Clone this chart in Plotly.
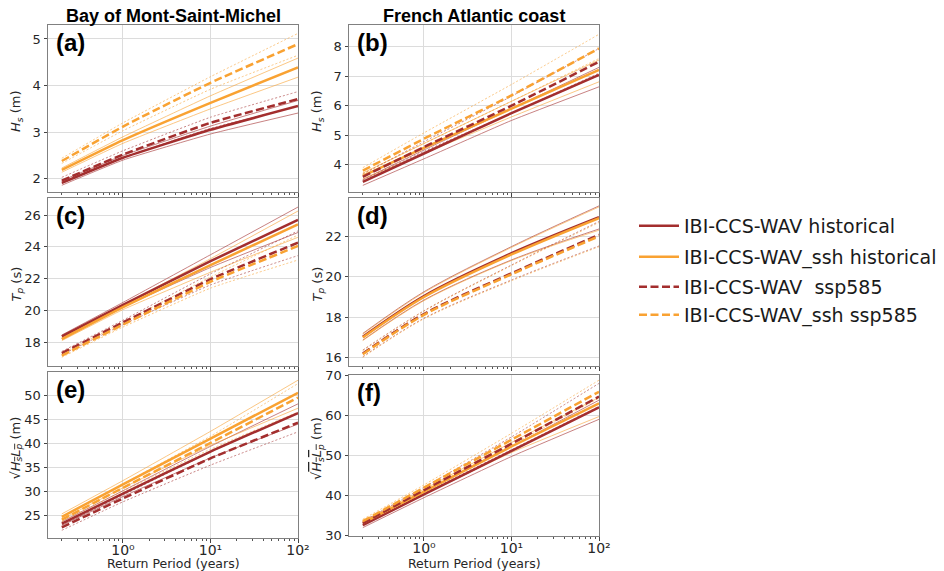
import math
import plotly.graph_objects as go

# ---------------- data ----------------
return_period = [0.2, 1, 10, 100]

# (a) Bay of Mont-Saint-Michel, Hs (m)
a_hist = [1.91, 2.45, 3.05, 3.56]
a_hist_lo = [1.86, 2.40, 2.96, 3.41]
a_hist_hi = [1.96, 2.50, 3.13, 3.68]
a_ssp = [1.96, 2.52, 3.20, 3.71]
a_ssp_lo = [1.90, 2.45, 3.08, 3.55]
a_ssp_hi = [2.03, 2.60, 3.32, 3.87]
a_ssh_hist = [2.19, 2.83, 3.63, 4.39]
a_ssh_hist_lo = [2.14, 2.76, 3.50, 4.18]
a_ssh_hist_hi = [2.23, 2.90, 3.78, 4.59]
a_ssh_ssp = [2.38, 3.12, 4.06, 4.89]
a_ssh_ssp_lo = [2.33, 3.03, 3.92, 4.65]
a_ssh_ssp_hi = [2.44, 3.20, 4.19, 5.12]

# (b) French Atlantic coast, Hs (m)
b_hist = [3.42, 4.38, 5.75, 7.04]
b_hist_lo = [3.30, 4.20, 5.50, 6.64]
b_hist_hi = [3.50, 4.50, 5.90, 7.30]
b_ssp = [3.59, 4.60, 6.00, 7.49]
b_ssp_lo = [3.48, 4.45, 5.75, 7.10]
b_ssp_hi = [3.68, 4.78, 6.32, 7.94]
b_ssh_hist = [3.62, 4.57, 5.90, 7.21]
b_ssh_hist_lo = [3.52, 4.38, 5.62, 6.81]
b_ssh_hist_hi = [3.72, 4.72, 6.15, 7.55]
b_ssh_ssp = [3.80, 4.88, 6.35, 7.94]
b_ssh_ssp_lo = [3.70, 4.72, 6.15, 7.60]
b_ssh_ssp_hi = [3.90, 5.08, 6.72, 8.42]

# (c) Bay of Mont-Saint-Michel, Tp (s)
c_hist = [18.36, 20.35, 23.10, 25.69]
c_hist_lo = [18.25, 20.20, 22.70, 24.90]
c_hist_hi = [18.45, 20.50, 23.50, 26.50]
c_ssp = [17.31, 19.24, 21.96, 24.26]
c_ssp_lo = [17.20, 19.10, 21.60, 23.45]
c_ssp_hi = [17.42, 19.38, 22.30, 25.00]
c_ssh_hist = [18.19, 20.20, 22.85, 25.41]
c_ssh_hist_lo = [18.10, 20.05, 22.40, 24.60]
c_ssh_hist_hi = [18.28, 20.35, 23.25, 26.25]
c_ssh_ssp = [17.16, 19.10, 21.80, 24.05]
c_ssh_ssp_lo = [17.05, 18.95, 21.40, 23.17]
c_ssh_ssp_hi = [17.28, 19.25, 22.10, 24.74]

# (d) French Atlantic coast, Tp (s)
d_hist = [17.04, 19.05, 21.16, 22.94]
d_hist_lo = [16.87, 18.85, 20.83, 22.36]
d_hist_hi = [17.20, 19.26, 21.49, 23.50]
d_ssp = [16.21, 18.16, 20.17, 22.07]
d_ssp_lo = [16.05, 17.95, 19.84, 21.52]
d_ssp_hi = [16.38, 18.32, 20.58, 22.73]
d_ssh_hist = [17.00, 19.00, 21.10, 22.90]
d_ssh_hist_lo = [16.85, 18.82, 20.80, 22.30]
d_ssh_hist_hi = [17.17, 19.22, 21.45, 23.45]
d_ssh_ssp = [16.17, 18.12, 20.12, 22.00]
d_ssh_ssp_lo = [16.02, 17.92, 19.80, 21.48]
d_ssh_ssp_hi = [16.35, 18.30, 20.55, 22.68]

# (e) Bay of Mont-Saint-Michel, sqrt(Hs Lp) (m)
e_hist = [23.4, 29.6, 38.3, 46.3]
e_hist_lo = [23.0, 29.0, 37.0, 44.0]
e_hist_hi = [23.8, 30.2, 39.4, 48.2]
e_ssp = [22.6, 28.6, 36.9, 44.3]
e_ssp_lo = [22.0, 27.9, 35.5, 42.4]
e_ssp_hi = [23.1, 29.3, 38.2, 46.3]
e_ssh_hist = [24.8, 31.5, 41.0, 50.5]
e_ssh_hist_lo = [24.3, 30.8, 39.6, 47.3]
e_ssh_hist_hi = [25.4, 32.3, 42.5, 53.1]
e_ssh_ssp = [24.2, 30.8, 40.1, 49.5]
e_ssh_ssp_lo = [23.8, 30.1, 38.8, 46.5]
e_ssh_ssp_hi = [24.7, 31.6, 41.5, 52.4]

# (f) French Atlantic coast, sqrt(Hs Lp) (m)
f_hist = [32.6, 40.3, 51.2, 62.1]
f_hist_lo = [32.0, 39.5, 49.8, 59.1]
f_hist_hi = [33.1, 40.9, 52.3, 63.9]
f_ssp = [33.1, 41.4, 53.0, 64.8]
f_ssp_lo = [32.6, 40.6, 51.5, 62.3]
f_ssp_hi = [33.6, 42.1, 54.7, 68.1]
f_ssh_hist = [33.2, 41.0, 52.3, 63.1]
f_ssh_hist_lo = [32.7, 40.3, 50.8, 59.8]
f_ssh_hist_hi = [33.6, 41.6, 53.3, 64.6]
f_ssh_ssp = [33.6, 42.0, 54.0, 66.0]
f_ssh_ssp_lo = [33.1, 41.3, 52.7, 64.4]
f_ssh_ssp_hi = [34.1, 42.7, 55.6, 68.9]

series_names = ["IBI-CCS-WAV historical", "IBI-CCS-WAV_ssh historical",
                "IBI-CCS-WAV  ssp585", "IBI-CCS-WAV_ssh ssp585"]

x_ticks = [1, 10, 100]
x_tick_text = ["10⁰", "10¹", "10²"]
x_title = "Return Period (years)"

panel_labels = ["(a)", "(b)", "(c)", "(d)", "(e)", "(f)"]
column_titles = ["Bay of Mont-Saint-Michel", "French Atlantic coast"]
y_titles = ["<i>H<sub>s</sub></i> (m)", "<i>H<sub>s</sub></i> (m)",
            "<i>T<sub>p</sub></i> (s)", "<i>T<sub>p</sub></i> (s)",
            "√<span style='text-decoration:overline'><i>H<sub>s</sub>L<sub>p</sub></i></span> (m)",
            "√<span style='text-decoration:overline'><i>H<sub>s</sub>L<sub>p</sub></i></span> (m)"]
y_ranges = [[1.715, 5.30], [3.075, 8.735], [16.5, 27.07],
            [15.59, 23.89], [20.4, 54.8], [29.9, 70.2]]
y_ticks = [[2, 3, 4, 5], [4, 5, 6, 7, 8], [18, 20, 22, 24, 26],
           [16, 18, 20, 22], [25, 30, 35, 40, 45, 50], [30, 40, 50, 60, 70]]

panels = [
    [(a_hist, a_hist_lo, a_hist_hi), (a_ssh_hist, a_ssh_hist_lo, a_ssh_hist_hi),
     (a_ssp, a_ssp_lo, a_ssp_hi), (a_ssh_ssp, a_ssh_ssp_lo, a_ssh_ssp_hi)],
    [(b_hist, b_hist_lo, b_hist_hi), (b_ssh_hist, b_ssh_hist_lo, b_ssh_hist_hi),
     (b_ssp, b_ssp_lo, b_ssp_hi), (b_ssh_ssp, b_ssh_ssp_lo, b_ssh_ssp_hi)],
    [(c_hist, c_hist_lo, c_hist_hi), (c_ssh_hist, c_ssh_hist_lo, c_ssh_hist_hi),
     (c_ssp, c_ssp_lo, c_ssp_hi), (c_ssh_ssp, c_ssh_ssp_lo, c_ssh_ssp_hi)],
    [(d_hist, d_hist_lo, d_hist_hi), (d_ssh_hist, d_ssh_hist_lo, d_ssh_hist_hi),
     (d_ssp, d_ssp_lo, d_ssp_hi), (d_ssh_ssp, d_ssh_ssp_lo, d_ssh_ssp_hi)],
    [(e_hist, e_hist_lo, e_hist_hi), (e_ssh_hist, e_ssh_hist_lo, e_ssh_hist_hi),
     (e_ssp, e_ssp_lo, e_ssp_hi), (e_ssh_ssp, e_ssh_ssp_lo, e_ssh_ssp_hi)],
    [(f_hist, f_hist_lo, f_hist_hi), (f_ssh_hist, f_ssh_hist_lo, f_ssh_hist_hi),
     (f_ssp, f_ssp_lo, f_ssp_hi), (f_ssh_ssp, f_ssh_ssp_lo, f_ssh_ssp_hi)],
]

# ---------------- styling ----------------
W, H = 944, 571
OFF = 8  # page body margin: the plot div starts 8px in from the window corner


def px_x(x):
    return (x - OFF) / W


def px_y(y):
    return 1 - (y - OFF) / H


RED = "#A32E2E"
ORANGE = "#F9A232"
colors = [RED, ORANGE, RED, ORANGE]
is_dashed = [False, False, True, True]
smooth = [0.4, 0.4, 0.4, 0.9, 0.4, 0.4]
ytitle_shift = [3, 3, 2, 2, -7, -7]

# window-pixel boxes of the panels (left, right, top, bottom)
boxes = [(48, 298, 25, 192), (349, 599, 25, 192),
         (48, 298, 198, 366), (349, 599, 198, 366),
         (48, 298, 372, 538), (349, 599, 375, 536)]

fig = go.Figure()

for p, series in enumerate(panels):
    ax = "" if p == 0 else str(p + 1)
    for s, (cen, lo, hi) in enumerate(series):
        col = colors[s]
        thin_dash = "2px,2px" if is_dashed[s] else "solid"
        for bound in (lo, hi):
            fig.add_trace(go.Scatter(
                x=return_period, y=bound, mode="lines",
                line=dict(color=col, width=0.8, dash=thin_dash, shape="spline",
                          smoothing=smooth[p]),
                opacity=0.75, showlegend=False, hoverinfo="skip",
                xaxis="x" + ax, yaxis="y" + ax))
    for s, (cen, lo, hi) in enumerate(series):
        col = colors[s]
        fig.add_trace(go.Scatter(
            x=return_period, y=cen, mode="lines",
            line=dict(color=col, width=2.5, dash="8px,3.5px" if is_dashed[s] else "solid",
                      shape="spline", smoothing=smooth[p]),
            name=series_names[s], showlegend=(p == 0),
            legend="legend" if s == 0 else "legend" + str(s + 1),
            xaxis="x" + ax, yaxis="y" + ax))

minor_vals = [v * 10 ** k for k in (-1, 0, 1) for v in range(2, 10)]
minor_vals = [v for v in minor_vals if 0.14 <= v <= 100]

layout = dict(
    width=W, height=H,
    margin=dict(l=0, r=0, t=0, b=0),
    paper_bgcolor="white", plot_bgcolor="white",
    font=dict(family="DejaVu Sans", color="#262626"),
    annotations=[], showlegend=True,
)

for p in range(6):
    ax = "" if p == 0 else str(p + 1)
    l, r, t, b = boxes[p]
    bottom_row = p >= 4
    xa = dict(
        type="log", range=[math.log10(0.139), 2.0],
        domain=[px_x(l), px_x(r)], anchor="y" + ax,
        tickvals=x_ticks,
        showticklabels=bottom_row,
        tickfont=dict(size=14, family="DejaVu Sans", color="#262626"),
        ticks="outside", ticklen=3.5, tickwidth=0.8, tickcolor="#444",
        showgrid=True, gridcolor="#dcdcdc", gridwidth=1,
        showline=True, linecolor="#808080", linewidth=1, mirror=True,
        zeroline=False,
        minor=dict(tickvals=minor_vals, ticks="outside", ticklen=2,
                   tickwidth=0.6, tickcolor="#555", showgrid=False),
        automargin=False,
    )
    if bottom_row:
        xa["ticktext"] = x_tick_text
        xa["ticklabelstandoff"] = -4
    layout["xaxis" + ax] = xa
    layout["yaxis" + ax] = dict(
        range=y_ranges[p], domain=[px_y(b), px_y(t)], anchor="x" + ax,
        tickvals=y_ticks[p],
        tickfont=dict(size=13, family="DejaVu Sans", color="#262626"),
        ticks="outside", ticklen=3.5, tickwidth=0.8, tickcolor="#444",
        showgrid=True, gridcolor="#dcdcdc", gridwidth=1,
        showline=True, linecolor="#808080", linewidth=1, mirror=True,
        zeroline=False, automargin=False,
    )
    # panel label
    layout["annotations"].append(dict(
        text="<b>" + panel_labels[p] + "</b>", x=px_x(l + 6), y=px_y(t + 2),
        xref="paper", yref="paper", xanchor="left", yanchor="top",
        showarrow=False, font=dict(size=24, family="Liberation Sans", color="black")))
    # y-axis title
    layout["annotations"].append(dict(
        text=y_titles[p], x=px_x(l - 21), y=px_y((t + b) / 2 + ytitle_shift[p]),
        xref="paper", yref="paper", xanchor="right", yanchor="middle",
        textangle=-90, showarrow=False,
        font=dict(size=13, family="DejaVu Sans", color="#262626")))
    if bottom_row:
        layout["annotations"].append(dict(
            text=x_title, x=px_x((l + r) / 2), y=px_y(563),
            xref="paper", yref="paper", xanchor="center", yanchor="middle",
            showarrow=False, font=dict(size=12.5, family="DejaVu Sans", color="#262626")))

for c, title in enumerate(column_titles):
    l, r, t, b = boxes[c]
    layout["annotations"].append(dict(
        text="<b>" + title + "</b>", x=px_x((l + r) / 2), y=px_y(16),
        xref="paper", yref="paper", xanchor="center", yanchor="middle",
        showarrow=False, font=dict(size=18, family="Liberation Sans", color="black")))

legend_rows = [226, 257, 287, 315]
for s in range(4):
    key = "legend" if s == 0 else "legend" + str(s + 1)
    layout[key] = dict(
        x=px_x(634), y=px_y(legend_rows[s]), xanchor="left", yanchor="middle",
        xref="paper", yref="paper",
        bgcolor="rgba(0,0,0,0)", borderwidth=0,
        font=dict(size=19, family="DejaVu Sans", color="#1a1a1a"),
        itemwidth=40,
    )

fig.update_layout(**layout)
fig.write_html("out.html")
